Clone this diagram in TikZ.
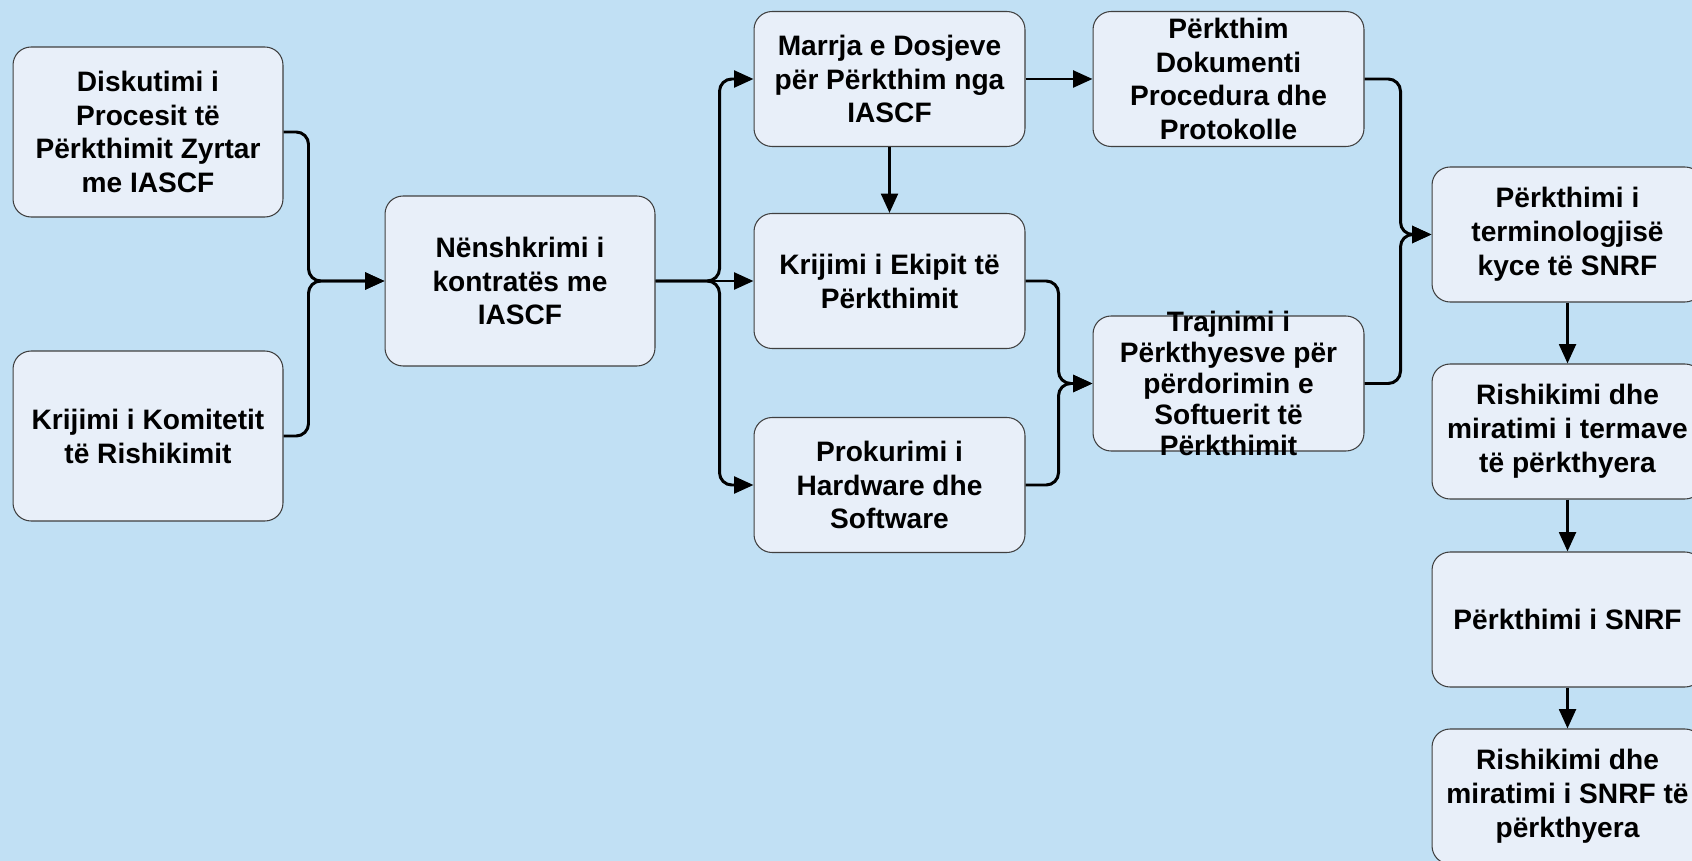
\documentclass[tikz,border=0pt]{standalone}
\usepackage{fontspec}
\setmainfont{Liberation Sans}
\usetikzlibrary{arrows.meta}
\definecolor{bgblue}{RGB}{193,224,244}
\definecolor{boxfill}{RGB}{232,239,249}
\begin{document}
\begin{tikzpicture}[x=0.02cm,y=-0.02cm,>={Triangle[length=11pt,width=9.5pt]},
	font=\fontsize{16}{19.3}\selectfont\bfseries, line join=round,
	stepbox/.style={draw=black!75, line width=0.6pt, fill=boxfill, rounded corners=0.36cm,
		minimum width=5.42cm, minimum height=2.7cm, align=center, inner sep=0pt},
	tallbox/.style={stepbox, minimum width=5.4cm, minimum height=3.4cm},
	link/.style={->, line width=1.7pt, rounded corners=7pt}]
	\path[use as bounding box, fill=bgblue] (0,0) rectangle (1692,861);
	\clip (0,0) rectangle (1692,861);
	% kolona e pare
	\node[tallbox] (dis) at (148,132) {Diskutimi i\\Procesit të\\Përkthimit Zyrtar\\me IASCF};
	\node[tallbox] (kom) at (148,436) {Krijimi i Komitetit\\të Rishikimit};
	\node[tallbox] (nen) at (520,281) {Nënshkrimi i\\kontratës me\\IASCF};
	% kolona e dyte
	\node[stepbox] (mar) at (889.5,79) {Marrja e Dosjeve\\për Përkthim nga\\IASCF};
	\node[stepbox] (eki) at (889.5,281) {Krijimi i Ekipit të\\Përkthimit};
	\node[stepbox] (pro) at (889.5,485) {Prokurimi i\\Hardware dhe\\Software};
	% kolona e trete
	\node[stepbox, label={[align=center]center:{Përkthim\\Dokumenti\\Procedura dhe\\Protokolle}}] (dok) at (1228.5,79) {};
	\node[stepbox, label={[align=center, font=\fontsize{16}{17.6}\selectfont\bfseries]center:{Trajnimi i\\Përkthyesve për\\përdorimin e\\Softuerit të\\Përkthimit}}] (tra) at (1228.5,383.5) {};
	% kolona e fundit
	\node[stepbox] (ter) at (1567.5,234.5) {Përkthimi i\\terminologjisë\\kyce të SNRF};
	\node[stepbox] (rit) at (1567.5,431.5) {Rishikimi dhe\\miratimi i termave\\të përkthyera};
	\node[stepbox] (snrf) at (1567.5,619.5) {Përkthimi i SNRF};
	\node[stepbox] (ris) at (1567.5,796.5) {Rishikimi dhe\\miratimi i SNRF të\\përkthyera};
	% lidhjet
	\draw[link] (dis.east) -- ++(25,0) |- (nen.west);
	\draw[link] (kom.east) -- ++(25,0) |- (nen.west);
	\draw[link] (nen.east) -- ++(64,0) |- (mar.west);
	\draw[link] (nen.east) -- (eki.west);
	\draw[link] (nen.east) -- ++(64,0) |- (pro.west);
	\draw[link] (mar.south) -- (eki.north);
	\draw[link] (mar.east) -- (dok.west);
	\draw[link] (eki.east) -- ++(33,0) |- (tra.west);
	\draw[link] (pro.east) -- ++(33,0) |- (tra.west);
	\draw[link] (dok.east) -- ++(36,0) |- (ter.west);
	\draw[link] (tra.east) -- ++(36,0) |- (ter.west);
	\draw[link] (ter.south) -- (rit.north);
	\draw[link] (rit.south) -- (snrf.north);
	\draw[link] (snrf.south) -- (ris.north);
\end{tikzpicture}
\end{document}
